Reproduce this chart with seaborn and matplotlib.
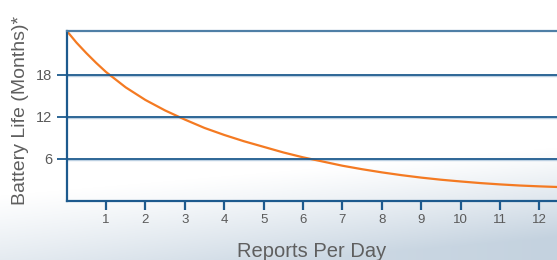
import numpy as np
import pandas as pd
import matplotlib.pyplot as plt
import seaborn as sns
from matplotlib.patches import Arc

# values
reports_per_day = [0, 0.25, 0.5, 0.75, 1, 1.5, 2, 2.5, 3, 3.5, 4, 4.5, 5, 5.5, 6,
                   6.5, 7, 7.5, 8, 8.5, 9, 9.5, 10, 10.5, 11, 11.5, 12, 12.5]
battery_months = [24.3, 22.6, 21.1, 19.7, 18.4, 16.2, 14.4, 12.9, 11.6, 10.4, 9.4,
                  8.5, 7.7, 6.9, 6.2, 5.6, 5.0, 4.5, 4.05, 3.65, 3.3, 3.0, 2.75,
                  2.52, 2.33, 2.17, 2.05, 1.95]
x_ticks = list(range(1, 13))
y_ticks = [6, 12, 18]

df = pd.DataFrame({"reports": reports_per_day, "months": battery_months})

sns.set_style("white")
plt.rcParams["font.family"] = ["Liberation Sans", "DejaVu Sans"]

blue = "#1d5a8e"
grey = "#5a5a5a"

W, H = 557, 260
fig = plt.figure(figsize=(W / 100, H / 100), dpi=100)

# soft blue-grey background fading in towards the bottom right
bg = fig.add_axes([0, 0, 1, 1], zorder=0)
px, py = np.meshgrid(np.arange(W), np.arange(H))
start = 195 - 48 * (px / W)
f = np.clip((py - start) / 90.0, 0, 1) ** 1.1 * (0.65 + 0.35 * px / W)
c0 = np.array([1.0, 1.0, 1.0])
c1 = np.array([0xc4, 0xd2, 0xdf]) / 255.0
img = c0 + (c1 - c0) * f[..., None]
bg.imshow(img, aspect="auto", extent=[0, W, H, 0])
bg.add_patch(Arc((395, 268), 80, 36, theta1=100, theta2=175, color="white", lw=2.2))
bg.set_xlim(0, W)
bg.set_ylim(H, 0)
bg.axis("off")

left = 66.6 / W
bottom = (H - 200.7) / H
ax = fig.add_axes([left, bottom, 1 - left, 170 / H], zorder=1)
ax.set_facecolor("none")

sns.lineplot(data=df, x="reports", y="months", ax=ax, color="#f47a22", lw=1.6)

ax.set_xlim(0, (W - 66.6) / 39.4)
ax.set_ylim(0, 24.3)
ax.set_xticks(x_ticks)
ax.set_yticks(y_ticks)
ax.set_xticklabels([str(t) for t in x_ticks], fontsize=9.5, color=grey)
ax.set_yticklabels([str(t) for t in y_ticks], fontsize=10.5, color=grey)
ax.tick_params(axis="x", bottom=True, direction="out", length=6.5, width=1.6,
               color=blue, pad=3)
ax.tick_params(axis="y", left=True, direction="out", length=7.5, width=1.3,
               color=blue, pad=3)

for y in y_ticks:
    ax.axhline(y - 0.22, color="#bcd0e2", lw=1.0, zorder=1)
    ax.axhline(y, color=blue, lw=1.3, zorder=2)

for side in ["left", "bottom"]:
    ax.spines[side].set_color(blue)
    ax.spines[side].set_linewidth(1.6)
ax.spines["top"].set_color("#4f7fa6")
ax.spines["top"].set_linewidth(1.6)
ax.spines["right"].set_visible(False)

ax.set_xlabel("")
ax.set_ylabel("")
fig.text(312 / W, (H - 256.7) / H, "Reports Per Day", ha="center", va="baseline",
         fontsize=14.5, color="#5f5f5f")
fig.text(21 / W, 1 - 110 / H, "Battery Life (Months)*", rotation=90, ha="center",
         va="center", fontsize=14, color="#5f5f5f")

fig.savefig("out.png", dpi=100)
